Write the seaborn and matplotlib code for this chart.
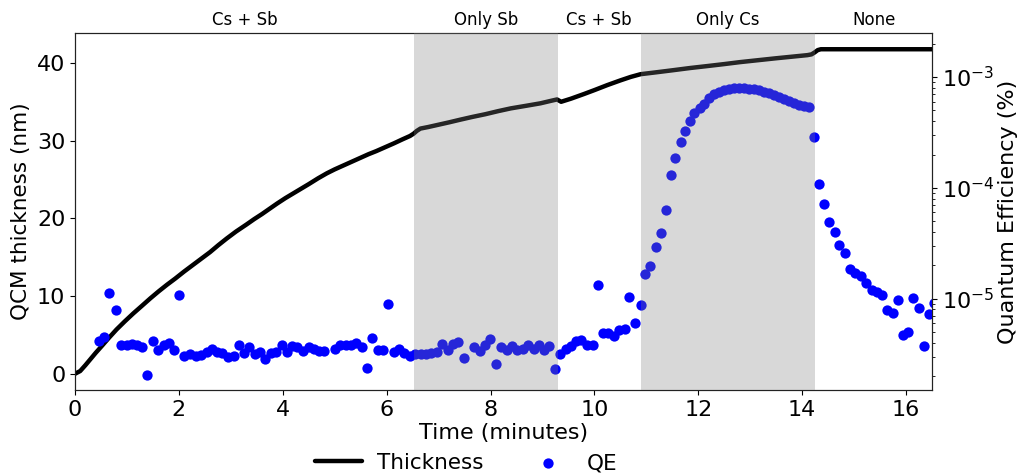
import numpy as np
import pandas as pd
import matplotlib
matplotlib.use("Agg")
import matplotlib.pyplot as plt
import matplotlib.transforms as mtransforms
import seaborn as sns

# ---------------- data ----------------
thick_time = [0, 0.1, 0.2, 0.3, 0.4, 0.52, 0.65, 0.8, 0.96, 1.12, 1.29, 1.45, 1.61, 1.77,
              1.93, 2.1, 2.3, 2.45, 2.6, 2.76, 2.92, 3.1, 3.3, 3.45, 3.6, 3.75, 3.89, 4.05,
              4.2, 4.35, 4.5, 4.68, 4.85, 5.0, 5.2, 5.35, 5.5, 5.65, 5.8, 5.97, 6.14, 6.3,
              6.45, 6.52, 6.58, 6.65, 6.8, 7.0, 7.2, 7.42, 7.65, 7.9, 8.15, 8.39, 8.7,
              8.96, 9.15, 9.28, 9.36, 9.55, 9.8, 10.0, 10.25, 10.5, 10.7, 10.89, 11.2,
              11.5, 11.85, 12.18, 12.5, 12.8, 13.15, 13.5, 13.8, 14.1, 14.18, 14.24,
              14.30, 14.36, 15.0, 15.5, 16.0, 16.5]
thickness = [0, 0.35, 1.1, 1.9, 2.7, 3.6, 4.6, 5.7, 6.75, 7.75, 8.75, 9.7, 10.6, 11.45,
             12.25, 13.15, 14.15, 14.9, 15.65, 16.55, 17.4, 18.3, 19.2, 19.9, 20.55, 21.25, 21.9, 22.6,
             23.2, 23.8, 24.4, 25.15, 25.8, 26.3, 26.9, 27.35, 27.8, 28.25, 28.65, 29.15, 29.65, 30.15,
             30.6, 30.9, 31.25, 31.55, 31.75, 32.05, 32.35, 32.7, 33.05, 33.4, 33.8, 34.15, 34.5,
             34.8, 35.1, 35.3, 35.0, 35.4, 36.0, 36.5, 37.15, 37.75, 38.2, 38.55, 38.8,
             39.05, 39.35, 39.6, 39.85, 40.1, 40.35, 40.6, 40.8, 41.0, 41.1, 41.35,
             41.65, 41.76, 41.76, 41.76, 41.76, 41.76]

qe_time = [0.463, 0.566, 0.662, 0.784, 0.887, 0.996, 1.092, 1.189, 1.298, 1.394,
           1.497, 1.600, 1.709, 1.818, 1.914, 2.011, 2.107, 2.217, 2.326, 2.429,
           2.532, 2.635, 2.731, 2.834, 2.949, 3.052, 3.149, 3.251, 3.348, 3.457,
           3.560, 3.663, 3.772, 3.875, 3.984, 4.081, 4.177, 4.280, 4.382, 4.498,
           4.594, 4.690, 4.800, 5.006, 5.108, 5.211, 5.314, 5.411, 5.526, 5.629,
           5.725, 5.828, 5.931, 6.028, 6.136, 6.246, 6.342, 6.445, 6.554, 6.664,
           6.766, 6.863, 6.973, 7.069, 7.177, 7.273, 7.383, 7.480, 7.686, 7.788,
           7.890, 7.994, 8.103, 8.206, 8.308, 8.411, 8.515, 8.617, 8.727, 8.829,
           8.925, 9.028, 9.132, 9.234, 9.336, 9.446, 9.542, 9.639, 9.748, 9.864,
           9.966, 10.063, 10.159, 10.262, 10.377, 10.480, 10.583, 10.673, 10.782, 10.892,
           10.975, 11.078, 11.194, 11.277, 11.373, 11.476, 11.561, 11.663, 11.740, 11.842,
           11.927, 12.029, 12.112, 12.197, 12.30, 12.40, 12.49, 12.59, 12.69, 12.78,
           12.88, 12.97, 13.07, 13.17, 13.26, 13.36, 13.46, 13.55, 13.65, 13.74,
           13.84, 13.94, 14.03, 14.13, 14.22, 14.323, 14.419, 14.522, 14.625, 14.714,
           14.824, 14.926, 15.023, 15.127, 15.229, 15.339, 15.441, 15.543, 15.640, 15.744,
           15.840, 15.942, 16.045, 16.141, 16.245, 16.341, 16.449, 16.545]
qe_value = [4.13e-6, 4.49e-6, 1.13e-5, 7.96e-6, 3.83e-6, 3.85e-6, 3.91e-6, 3.85e-6, 3.70e-6, 2.06e-6,
            4.13e-6, 3.48e-6, 3.80e-6, 3.96e-6, 3.43e-6, 1.09e-5, 3.03e-6, 3.20e-6, 3.07e-6, 3.13e-6,
            3.31e-6, 3.55e-6, 3.27e-6, 3.22e-6, 2.96e-6, 3.05e-6, 3.80e-6, 3.22e-6, 3.65e-6, 3.18e-6,
            3.27e-6, 2.86e-6, 3.24e-6, 3.31e-6, 3.80e-6, 3.31e-6, 3.78e-6, 3.65e-6, 3.36e-6, 3.65e-6,
            3.55e-6, 3.36e-6, 3.40e-6, 3.50e-6, 3.80e-6, 3.85e-6, 3.80e-6, 3.96e-6, 3.70e-6, 2.39e-6,
            4.43e-6, 3.43e-6, 3.43e-6, 9.02e-6, 3.29e-6, 3.55e-6, 3.22e-6, 3.07e-6, 3.18e-6, 3.18e-6,
            3.18e-6, 3.22e-6, 3.29e-6, 3.94e-6, 3.43e-6, 3.91e-6, 4.05e-6, 2.92e-6, 3.70e-6, 3.40e-6,
            3.80e-6, 4.37e-6, 2.60e-6, 3.65e-6, 3.48e-6, 3.78e-6, 3.48e-6, 3.55e-6, 3.85e-6, 3.55e-6,
            3.85e-6, 3.48e-6, 3.72e-6, 2.33e-6, 3.18e-6, 3.52e-6, 3.72e-6, 4.13e-6, 4.28e-6, 3.85e-6,
            3.85e-6, 1.33e-5, 4.91e-6, 4.91e-6, 4.65e-6, 5.26e-6, 5.33e-6, 1.04e-5, 6.00e-6, 8.77e-6,
            1.67e-5, 1.98e-5, 2.92e-5, 3.94e-5, 6.32e-5, 1.31e-4, 1.85e-4, 2.57e-4, 3.27e-4, 4.02e-4,
            4.74e-4, 5.31e-4, 5.77e-4, 6.53e-4, 6.98e-4, 7.36e-4, 7.67e-4, 7.83e-4, 7.91e-4, 7.91e-4,
            7.91e-4, 7.83e-4, 7.74e-4, 7.59e-4, 7.36e-4, 7.13e-4, 6.84e-4, 6.56e-4, 6.30e-4, 6.04e-4,
            5.79e-4, 5.56e-4, 5.45e-4, 5.33e-4, 2.88e-4, 1.08e-4, 7.16e-5, 4.90e-5, 3.98e-5, 3.08e-5,
            2.58e-5, 1.84e-5, 1.70e-5, 1.59e-5, 1.39e-5, 1.19e-5, 1.14e-5, 1.09e-5, 7.91e-6, 7.43e-6,
            9.79e-6, 4.74e-6, 4.98e-6, 1.007e-5, 8.24e-6, 3.78e-6, 7.23e-6, 9.14e-6]

region_labels = ["Cs + Sb", "Only Sb", "Cs + Sb", "Only Cs", "None"]
region_edges = [0.0, 6.535, 9.29, 10.89, 14.25, 16.5]
shaded_regions = [1, 3]

thick_df = pd.DataFrame({"time": thick_time, "thickness": thickness})
qe_df = pd.DataFrame({"time": qe_time, "qe": qe_value})

# ---------------- figure ----------------
sns.set_theme(style="ticks", rc={
    "text.color": "black", "axes.labelcolor": "black",
    "xtick.color": "black", "ytick.color": "black", "axes.edgecolor": "black",
    "xtick.major.size": 3.5, "ytick.major.size": 3.5,
    "xtick.minor.size": 2.0, "ytick.minor.size": 2.0,
    "xtick.major.width": 0.8, "ytick.major.width": 0.8,
    "xtick.minor.width": 0.6, "ytick.minor.width": 0.6,
    "axes.linewidth": 0.8,
})
plt.rcParams["font.family"] = ["DejaVu Sans"]

fig = plt.figure(figsize=(10.18, 4.75), dpi=100)
ax1 = fig.add_axes([75 / 1018, 1 - 390 / 475, (932 - 75) / 1018, (390 - 33) / 475])
ax2 = ax1.twinx()

sns.lineplot(data=thick_df, x="time", y="thickness", ax=ax1, color="black",
             linewidth=3.2, label="Thickness", legend=False)
sns.scatterplot(data=qe_df, x="time", y="qe", ax=ax2, color="blue", s=55,
                linewidth=0, label="QE", legend=False, zorder=2)

for i in shaded_regions:
    ax2.axvspan(region_edges[i], region_edges[i + 1], color="gray", alpha=0.3,
                linewidth=0, zorder=3)

trans = mtransforms.blended_transform_factory(ax1.transData, ax1.transAxes)
for i, lab in enumerate(region_labels):
    ax1.text((region_edges[i] + region_edges[i + 1]) / 2, 1.037, lab, transform=trans,
             ha="center", va="center", fontsize=12)

ax1.set_xlim(0, 16.5)
ax1.set_ylim(-2.09, 43.85)
ax1.set_xticks([0, 2, 4, 6, 8, 10, 12, 14, 16])
ax1.set_yticks([0, 10, 20, 30, 40])
ax2.set_yscale("log")
ax2.set_ylim(1.5e-6, 2.5e-3)

ax1.set_xlabel("Time (minutes)", fontsize=16, labelpad=2)
ax1.set_ylabel("QCM thickness (nm)", fontsize=15.5, labelpad=4)
ax2.set_ylabel("Quantum Efficiency (%)", fontsize=16, labelpad=3)
ax1.tick_params(axis="both", labelsize=16)
ax2.tick_params(axis="y", labelsize=16)
for ax in (ax1, ax2):
    for sp in ax.spines.values():
        sp.set_visible(True)
        sp.set_color("#222222")

h1, l1 = ax1.get_legend_handles_labels()
h2, l2 = ax2.get_legend_handles_labels()
fig.legend(h1 + h2, l1 + l2, loc="center", bbox_to_anchor=(466 / 1018, 1 - 463 / 475),
           ncol=2, frameon=False, fontsize=15.5, columnspacing=1.9, handlelength=2.2,
           handletextpad=0.7)

fig.savefig("out.png", dpi=100)
